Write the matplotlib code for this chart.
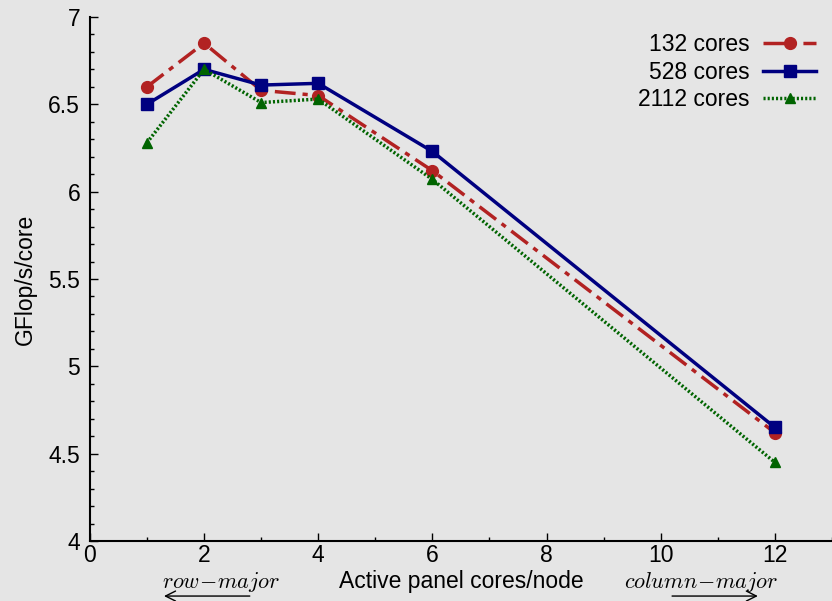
import matplotlib
matplotlib.use('Agg')
import matplotlib.pyplot as plt
from matplotlib.ticker import MultipleLocator

plt.rcParams['font.family'] = 'Liberation Sans'
plt.rcParams['mathtext.fontset'] = 'cm'

# data
cores = [1, 2, 3, 4, 6, 12]
gf_132 = [6.60, 6.85, 6.58, 6.55, 6.12, 4.62]
gf_528 = [6.50, 6.70, 6.61, 6.62, 6.23, 4.65]
gf_2112 = [6.28, 6.70, 6.51, 6.53, 6.07, 4.45]

bg = '#e5e5e5'
fs = 16.5
fig = plt.figure(figsize=(8.32, 6.01), dpi=100, facecolor=bg)
ax = fig.add_axes([0.108, 0.0998, 0.892, 0.872], facecolor=bg)

ax.plot(cores, gf_132, color='#b22222', linestyle=(0, (6, 2, 1.5, 2)), linewidth=2.5,
        marker='o', markersize=8.5, label='132 cores')
ax.plot(cores, gf_528, color='#000080', linestyle='-', linewidth=2.5,
        marker='s', markersize=8.5, label='528 cores')
ax.plot(cores, gf_2112, color='#006400', linestyle=(0, (0.6, 0.6)), linewidth=2.5,
        marker='^', markersize=7.5, label='2112 cores')

ax.set_xlim(0, 13)
ax.set_ylim(4, 7)
ax.xaxis.set_major_locator(MultipleLocator(2))
ax.xaxis.set_minor_locator(MultipleLocator(1))
ax.yaxis.set_minor_locator(MultipleLocator(0.1))
ax.set_yticks([4, 4.5, 5, 5.5, 6, 6.5, 7])
ax.set_yticklabels(['4', '4.5', '5', '5.5', '6', '6.5', '7'])
ax.tick_params(which='both', direction='in', labelsize=fs, top=False, right=False)
ax.tick_params(which='major', length=6, width=1)
ax.tick_params(which='minor', length=3, width=1)
ax.tick_params(axis='y', pad=7)
ax.tick_params(axis='x', pad=2)

for s in ['top', 'right']:
    ax.spines[s].set_visible(False)
for s in ['left', 'bottom']:
    ax.spines[s].set_linewidth(1.5)

ax.set_xlabel('Active panel cores/node', fontsize=fs, labelpad=2)
ax.set_ylabel('GFlop/s/core', fontsize=fs, labelpad=8)

leg = ax.legend(loc='upper right', frameon=False, markerfirst=False, fontsize=fs,
                handlelength=2.3, handletextpad=0.6, borderaxespad=0.3,
                labelspacing=0.2)

# row-major / column-major annotations under the axis
xt = ax.get_xaxis_transform()
arrow = dict(arrowstyle='->', lw=1, color='black', mutation_scale=18)
ax.text(2.3, -0.078, r'$row\!-\!major$', transform=xt,
        ha='center', va='center', fontsize=16)
ax.annotate('', xy=(1.25, -0.105), xytext=(2.85, -0.105),
            xycoords=xt, textcoords=xt, arrowprops=arrow, annotation_clip=False)
ax.text(10.7, -0.078, r'$column\!-\!major$', transform=xt,
        ha='center', va='center', fontsize=16)
ax.annotate('', xy=(11.75, -0.105), xytext=(10.15, -0.105),
            xycoords=xt, textcoords=xt, arrowprops=arrow, annotation_clip=False)

plt.savefig('out.png', dpi=100, facecolor=bg)
